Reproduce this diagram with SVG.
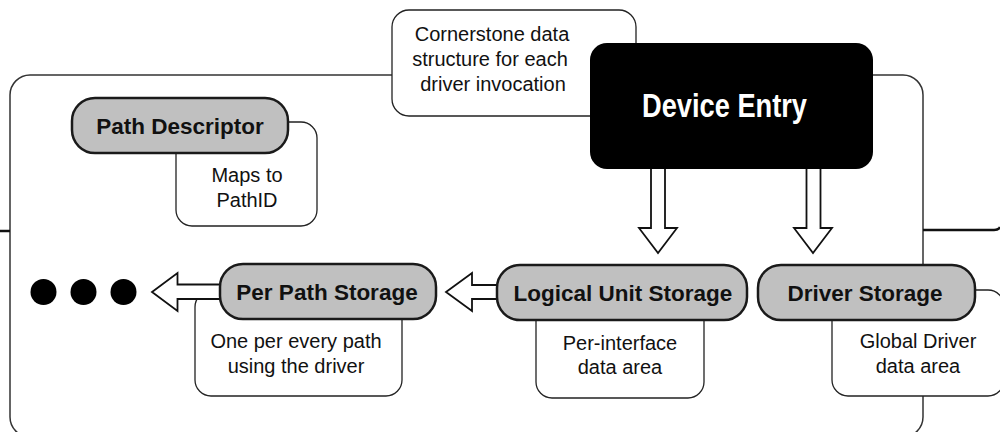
<svg xmlns="http://www.w3.org/2000/svg" width="1000" height="432" viewBox="0 0 1000 432">
  <style>
    .frame { fill: none; stroke: #333; stroke-width: 1.5; }
    .edge { fill: none; stroke: #111; stroke-width: 2.5; }
    .note { fill: #fff; stroke: #222; stroke-width: 1.3; }
    .pill { fill: #c0c0c0; stroke: #1a1a1a; stroke-width: 2.5; }
    .arrow { fill: #fff; stroke: #111; stroke-width: 1.8; stroke-linejoin: miter; }
    .dot { fill: #000; }
    .label { font-family: "Liberation Sans", Arial, Helvetica, sans-serif; font-weight: bold; font-size: 22.5px; fill: #111; text-anchor: middle; }
    .txt { font-family: "Liberation Sans", Arial, Helvetica, sans-serif; font-size: 20px; fill: #111; text-anchor: middle; }
    .title { font-family: "Liberation Sans Narrow", "Liberation Sans", Arial, sans-serif; font-weight: bold; font-size: 33px; fill: #fff; }
  </style>

  <!-- enclosing driver region and neighbouring edges -->
  <g id="frame">
    <rect class="frame" x="10" y="75" width="913" height="362" rx="20" ry="20"/>
    <path class="edge" d="M0,231 H10"/>
    <path class="edge" d="M923,230 H994 Q999,230 1000,227"/>
  </g>

  <!-- annotation boxes -->
  <g id="note-device-entry">
    <rect class="note" x="392" y="10" width="244" height="106" rx="17" ry="17"/>
    <text class="txt"><tspan x="492" y="41">Cornerstone data</tspan><tspan x="490" y="66">structure for each</tspan><tspan x="493" y="91">driver invocation</tspan></text>
  </g>
  <g id="note-path-descriptor">
    <rect class="note" x="176" y="122" width="141" height="104" rx="16" ry="16"/>
    <text class="txt"><tspan x="247" y="182">Maps to</tspan><tspan x="247" y="207">PathID</tspan></text>
  </g>
  <g id="note-per-path">
    <rect class="note" x="195" y="291" width="207" height="105" rx="16" ry="16"/>
    <text class="txt"><tspan x="296" y="348">One per every path</tspan><tspan x="296" y="373">using the driver</tspan></text>
  </g>
  <g id="note-logical-unit">
    <rect class="note" x="536" y="291" width="168" height="107" rx="16" ry="16"/>
    <text class="txt"><tspan x="620" y="350">Per-interface</tspan><tspan x="620" y="374">data area</tspan></text>
  </g>
  <g id="note-driver">
    <rect class="note" x="832" y="290" width="172" height="106" rx="16" ry="16"/>
    <text class="txt"><tspan x="918" y="348">Global Driver</tspan><tspan x="918" y="373">data area</tspan></text>
  </g>

  <!-- block arrows -->
  <g id="connectors">
    <path class="arrow" d="M651,168 V228 H639 L658,253 L677,228 H665 V168"/>
    <path class="arrow" d="M806.5,168 V228 H794 L813,253 L832,228 H820.5 V168"/>
    <path class="arrow" d="M498,285 H472 V273 L446,292 L472,311 V299 H498"/>
    <path class="arrow" d="M221,284.5 H177.5 V273 L152,292 L177.5,311 V299 H221"/>
  </g>

  <!-- continuation dots -->
  <g id="more">
    <circle class="dot" cx="43.5" cy="292" r="13"/>
    <circle class="dot" cx="83.5" cy="292" r="13"/>
    <circle class="dot" cx="123.5" cy="292" r="13"/>
  </g>

  <g id="device-entry">
    <rect x="590" y="43" width="283" height="126" rx="17" ry="17" fill="#000"/>
    <text class="title" x="642" y="117" textLength="165" lengthAdjust="spacingAndGlyphs">Device Entry</text>
  </g>

  <g id="path-descriptor">
    <rect class="pill" x="72" y="98" width="216" height="55" rx="23" ry="23"/>
    <text class="label" x="180" y="133.5">Path Descriptor</text>
  </g>

  <g id="per-path-storage">
    <rect class="pill" x="220" y="264" width="216" height="55" rx="23" ry="23"/>
    <text class="label" x="327" y="300">Per Path Storage</text>
  </g>

  <g id="logical-unit-storage">
    <rect class="pill" x="497" y="265" width="250" height="55" rx="23" ry="23"/>
    <text class="label" x="623" y="300.5">Logical Unit Storage</text>
  </g>

  <g id="driver-storage">
    <rect class="pill" x="758" y="265" width="217" height="55" rx="23" ry="23"/>
    <text class="label" x="865" y="300.5">Driver Storage</text>
  </g>
</svg>
